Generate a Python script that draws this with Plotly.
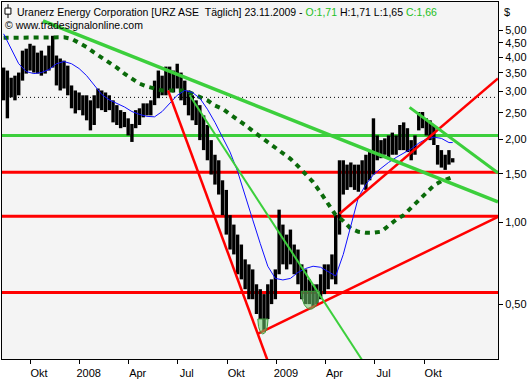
import numpy as np
import pandas as pd
import plotly.graph_objects as go

# ---------------- data ----------------
last_date = "2009-11-23"
n_weeks = 120

bar_high = [3.66, 3.57, 3.36, 3.42, 3.51, 4.22, 4.29, 4.47, 4.40, 4.15,
            4.22, 4.05, 4.40, 4.78, 4.05, 3.95, 3.88, 3.72, 3.15, 3.02,
            2.97, 2.90, 2.90, 2.78, 2.90, 3.07, 3.02, 2.97, 2.90, 2.78,
            2.67, 2.56, 2.52, 2.39, 2.28, 2.56, 2.60, 2.71, 2.71, 2.78,
            3.28, 3.57, 3.42, 3.69, 3.69, 3.57, 3.78, 3.51, 3.28, 3.02,
            2.90, 2.78, 2.67, 2.45, 2.26, 1.99, 1.76, 1.68, 1.42, 1.31,
            1.06, 0.979, 0.900, 0.828, 0.731, 0.701, 0.672, 0.593, 0.569, 0.546,
            0.593, 0.618, 0.672, 1.11, 0.979, 0.900, 0.939, 0.828, 0.794, 0.701,
            0.672, 0.618, 0.593, 0.593, 0.645, 0.701, 0.701, 0.762, 1.06, 1.68,
            1.68, 1.62, 1.65, 1.62, 1.62, 1.68, 1.76, 1.83, 2.39, 2.07,
            1.99, 2.02, 2.07, 2.12, 2.07, 2.26, 2.31, 2.20, 1.99, 2.07,
            2.52, 2.52, 2.39, 2.35, 2.26, 1.91, 1.83, 1.76, 1.83, 1.71]

bar_low = [2.78, 2.39, 2.85, 2.78, 2.90, 3.28, 3.48, 3.57, 3.51, 3.48,
           3.42, 3.48, 3.57, 3.66, 3.15, 3.02, 3.07, 2.90, 2.60, 2.49,
           2.56, 2.45, 2.35, 2.16, 2.26, 2.60, 2.56, 2.52, 2.56, 2.31,
           2.26, 2.20, 2.22, 2.07, 1.96, 2.20, 2.26, 2.41, 2.45, 2.45,
           2.67, 2.83, 2.90, 2.90, 3.02, 2.97, 3.07, 2.78, 2.67, 2.45,
           2.35, 2.26, 1.99, 1.83, 1.68, 1.49, 1.37, 1.26, 1.06, 0.900,
           0.794, 0.762, 0.645, 0.618, 0.569, 0.523, 0.523, 0.462, 0.443, 0.397,
           0.443, 0.502, 0.523, 0.645, 0.701, 0.672, 0.701, 0.645, 0.593, 0.523,
           0.502, 0.502, 0.490, 0.502, 0.523, 0.546, 0.569, 0.618, 0.593, 0.900,
           1.26, 1.31, 1.34, 1.31, 1.29, 1.37, 1.31, 1.42, 1.49, 1.68,
           1.71, 1.76, 1.71, 1.76, 1.76, 1.83, 1.83, 1.80, 1.68, 1.76,
           2.16, 2.20, 2.07, 1.99, 1.91, 1.62, 1.58, 1.55, 1.62, 1.65]

ma_fast = [4.86, 4.28, 3.78, 3.54, 3.48, 3.51, 3.60, 3.78, 3.85, 3.78,
           3.63, 3.42, 3.15, 2.92, 2.79, 2.71, 2.63, 2.53, 2.47, 2.43,
           2.42, 2.53, 2.71, 2.90, 3.02, 2.97, 2.83, 2.58, 2.31, 2.05,
           1.80, 1.53, 1.26, 1.02, 0.835, 0.690, 0.623, 0.615, 0.623, 0.655,
           0.677, 0.690, 0.684, 0.660, 0.636, 0.762, 0.979, 1.23, 1.37, 1.49,
           1.57, 1.65, 1.72, 1.78, 1.85, 1.94, 2.01, 2.04, 2.02, 1.95, 1.95]

ma_slow = [4.70, 4.70, 4.72, 4.74, 4.74, 4.74, 4.74, 4.74, 4.72, 4.66,
           4.51, 4.35, 4.15, 3.98, 3.83, 3.66, 3.48, 3.34, 3.20, 3.12,
           3.06, 3.02, 3.02, 3.03, 3.02, 2.94, 2.86, 2.78, 2.66, 2.59,
           2.47, 2.37, 2.26, 2.15, 2.05, 1.95, 1.87, 1.78, 1.70, 1.60,
           1.50, 1.40, 1.28, 1.16, 1.06, 1.01, 0.946, 0.922, 0.914, 0.914,
           0.922, 0.970, 1.02, 1.06, 1.13, 1.21, 1.29, 1.36, 1.41, 1.44, 1.46]

red_trend_dates = [["2008-06-13", "2008-12-21"],
                   ["2008-11-26", "2010-02-15"],
                   ["2009-04-27", "2010-02-15"]]
red_trend_prices = [[3.02, 0.289], [0.391, 1.045], [1.072, 3.34]]

green_trend_dates = [["2007-10-25", "2010-02-15"],
                     ["2008-07-23", "2009-06-14"],
                     ["2009-09-04", "2010-02-15"]]
green_trend_prices = [[5.42, 1.185], [2.90, 0.301], [2.62, 1.51]]
green_trend_widths = [3.5, 2, 3]

red_levels = [1.52, 1.05, 0.554]
green_levels = [2.07]
dotted_level = 2.85

bottom_centers = ["2008-12-06", "2009-03-04"]
bottom_half_days = [9.5, 17]
bottom_tops = [0.443, 0.559]
bottom_lows = [0.391, 0.481]

x_range = ["2007-08-10", "2010-02-15"]
tick_dates = ["2007-10-01", "2008-01-01", "2008-04-01", "2008-07-01", "2008-10-01",
              "2009-01-01", "2009-04-01", "2009-07-01", "2009-10-01"]
tick_text = ["Okt", "2008", "Apr", "Jul", "Okt", "2009", "Apr", "Jul", "Okt"]
y_ticks = [0.5, 1, 1.5, 2, 2.5, 3, 3.5, 4, 4.5, 5]
y_ticktext = ["0,50", "1,00", "1,50", "2,00", "2,50", "3,00", "3,50", "4,00", "4,50", "5,00"]

# ---------------- figure ----------------
dates = pd.date_range(end=last_date, periods=n_weeks, freq="7D")
ma_dates = list(dates[::2]) + [dates[-1]]

fig = go.Figure()

# horizontal levels
for lv in red_levels:
    fig.add_trace(go.Scatter(x=x_range, y=[lv, lv], mode="lines",
                             line=dict(color="#ff0000", width=3), hoverinfo="skip"))
for lv in green_levels:
    fig.add_trace(go.Scatter(x=x_range, y=[lv, lv], mode="lines",
                             line=dict(color="#3ccf3c", width=3), hoverinfo="skip"))
fig.add_trace(go.Scatter(x=x_range, y=[dotted_level, dotted_level], mode="lines",
                         line=dict(color="black", width=1, dash="1px,3px"), hoverinfo="skip"))

# price bars (high-low)
bx, by = [], []
for d, h, l in zip(dates, bar_high, bar_low):
    bx += [d, d, None]
    by += [l, h, None]
fig.add_trace(go.Scatter(x=bx, y=by, mode="lines", line=dict(color="black", width=3.4),
                         hoverinfo="skip"))

# moving averages
fig.add_trace(go.Scatter(x=ma_dates, y=ma_slow, mode="lines",
                         line=dict(color="#0a6a0a", width=4, dash="5px,5px"), hoverinfo="skip"))
fig.add_trace(go.Scatter(x=ma_dates, y=ma_fast, mode="lines",
                         line=dict(color="#1010ff", width=1), hoverinfo="skip"))

# trend lines
for dd, pp in zip(red_trend_dates, red_trend_prices):
    fig.add_trace(go.Scatter(x=dd, y=pp, mode="lines",
                             line=dict(color="#ff0000", width=2.5), hoverinfo="skip"))
for dd, pp, w in zip(green_trend_dates, green_trend_prices, green_trend_widths):
    fig.add_trace(go.Scatter(x=dd, y=pp, mode="lines",
                             line=dict(color="#3ccf3c", width=w), hoverinfo="skip"))

# rounded-bottom markers
t = np.linspace(0, np.pi, 31)
for c, hd, top, low in zip(bottom_centers, bottom_half_days, bottom_tops, bottom_lows):
    c = pd.Timestamp(c)
    ex = [c + pd.Timedelta(days=float(hd * np.cos(tt))) for tt in t]
    lt, lb = np.log10(top), np.log10(low)
    ey = [10 ** (lt - (lt - lb) * np.sin(tt)) for tt in t]
    fig.add_trace(go.Scatter(x=ex + [ex[0]], y=ey + [ey[0]], mode="lines", fill="toself",
                             fillcolor="rgba(110,200,110,0.55)",
                             line=dict(color="#3a9a3a", width=1), hoverinfo="skip"))

fig.update_layout(
    width=531, height=380,
    margin=dict(l=2, r=33, t=1, b=20),
    paper_bgcolor="white", plot_bgcolor="#f4f4f4",
    showlegend=False,
    font=dict(family="Liberation Sans", size=11, color="black"),
    xaxis=dict(type="date", range=x_range, tickvals=tick_dates, ticktext=tick_text,
               ticks="outside", ticklen=4, tickcolor="black", ticklabelshift=9,
               showgrid=False, zeroline=False, showline=True, linecolor="black",
               linewidth=1, mirror=True, tickfont=dict(size=11)),
    yaxis=dict(type="log", side="right", range=[-0.4995, 0.8027],
               tickvals=y_ticks, ticktext=y_ticktext,
               ticks="outside", ticklen=4, tickcolor="black",
               showgrid=False, zeroline=False, showline=True, linecolor="black",
               linewidth=1, mirror=True, tickfont=dict(size=11)),
)

header = ("Uranerz Energy Corporation [URZ ASE&nbsp; Täglich] 23.11.2009 - "
          "<span style='color:#22c022'>O:1,71</span> H:1,71 L:1,65 "
          "<span style='color:#22c022'>C:1,66</span>")
fig.add_annotation(xref="paper", yref="paper", x=0.027, y=1.0, xanchor="left", yanchor="top",
                   yshift=-2, text=header, showarrow=False, font=dict(size=10.5))
fig.add_annotation(xref="paper", yref="paper", x=0.002, y=1.0, xanchor="left", yanchor="top",
                   yshift=-15, text="© www.tradesignalonline.com", showarrow=False,
                   font=dict(size=10.5))
fig.add_annotation(xref="paper", yref="paper", x=1.0, y=1.0, xanchor="left", yanchor="top",
                   xshift=4, yshift=-2, text="$", showarrow=False, font=dict(size=11))

# small bar-chart icon in header
fig.add_shape(type="line", xref="paper", yref="paper", x0=0.0121, x1=0.0121,
              y0=0.994, y1=0.955, line=dict(color="black", width=1))
fig.add_shape(type="rect", xref="paper", yref="paper", x0=0.006, x1=0.018,
              y0=0.983, y1=0.966, line=dict(color="black", width=1), fillcolor="white")

fig.write_html("out.html")
